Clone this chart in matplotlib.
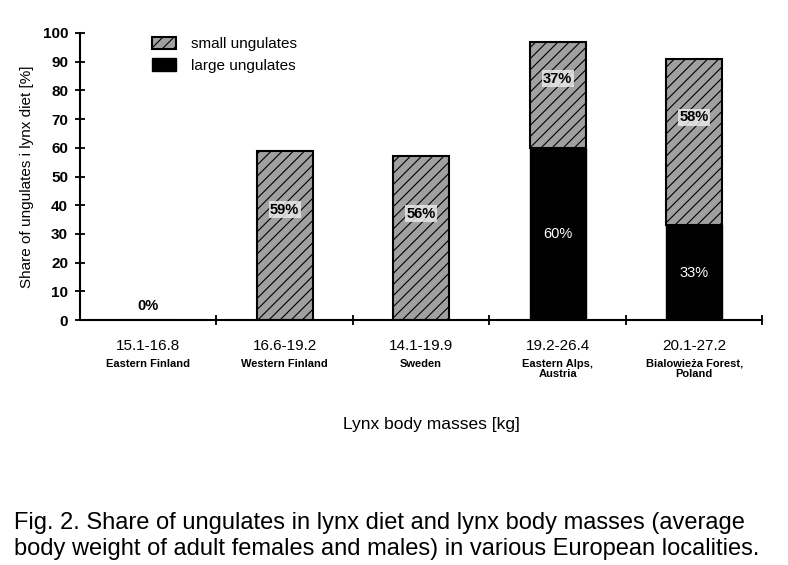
import matplotlib
matplotlib.use("Agg")
import matplotlib.pyplot as plt
import matplotlib.transforms as mtransforms
import numpy as np

plt.rcParams['font.family'] = ['Liberation Sans', 'DejaVu Sans']
plt.rcParams['hatch.linewidth'] = 0.8

# data
masses = ["15.1-16.8", "16.6-19.2", "14.1-19.9", "19.2-26.4", "20.1-27.2"]
places = ["Eastern Finland", "Western Finland", "Sweden", "Eastern Alps,\nAustria",
          "Bialowieża Forest,\nPoland"]
large = [0, 0, 0, 60, 33]
small = [0, 59, 57, 37, 58]
small_labels = ["0%", "59%", "56%", "37%", "58%"]
large_labels = ["", "", "", "60%", "33%"]

fig = plt.figure(figsize=(7.88, 5.65), dpi=100)
ax = fig.add_axes([0.1015, 0.4336, 0.866, 0.508])

x = np.arange(len(masses))
width = 0.41
ax.bar(x, large, width, color='black', edgecolor='black', label='large ungulates', zorder=2)
ax.bar(x, small, width, bottom=large, color='#a0a0a0', edgecolor='black', hatch='///',
       linewidth=1.5, label='small ungulates', zorder=2)

# labels in the bars (small-ungulate labels sit in the upper part of their segment)
for i in range(len(x)):
    if small[i] == 0:
        ax.text(x[i], 5, small_labels[i], ha='center', va='center', fontsize=10.5, fontweight='bold')
    else:
        ax.text(x[i], large[i] + small[i] * 0.65, small_labels[i], ha='center', va='center',
                fontsize=10.5, fontweight='bold', zorder=3,
                bbox=dict(facecolor='#e8e8e8', edgecolor='none', pad=1.0, alpha=0.85))
    if large[i] > 0:
        ax.text(x[i], large[i] / 2, large_labels[i], ha='center', va='center',
                fontsize=10.5, color='white', zorder=3)

ax.set_xlim(-0.5, len(x) - 0.5)
ax.set_ylim(0, 100)
ax.set_yticks(np.arange(0, 101, 10))
ax.set_xticks(np.arange(0.5, len(x) - 0.4, 1.0))
ax.set_xticklabels([])
ax.tick_params(axis='both', direction='inout', length=7, width=1.3)
ax.tick_params(axis='y', labelsize=11, pad=5)
for lab in ax.get_yticklabels():
    lab.set_fontweight('bold')
ax.spines['top'].set_visible(False)
ax.spines['right'].set_visible(False)
ax.spines['left'].set_linewidth(1.5)
ax.spines['bottom'].set_linewidth(1.5)

trans = mtransforms.blended_transform_factory(ax.transData, ax.transAxes)
for i in range(len(x)):
    ax.text(x[i], -0.09, masses[i], transform=trans, ha='center', va='center', fontsize=11)
    ax.text(x[i], -0.135, places[i], transform=trans, ha='center', va='top', fontsize=8,
            fontweight='bold', linespacing=1.0)

ax.set_ylabel("Share of ungulates i lynx diet [%]", fontsize=11, labelpad=6)
fig.text(0.548, 0.248, "Lynx body masses [kg]", ha='center', va='center', fontsize=12.5)

handles, labels = ax.get_legend_handles_labels()
ax.legend(handles[::-1], labels[::-1], loc='upper left', bbox_to_anchor=(0.085, 1.035),
          frameon=False, fontsize=11, handlelength=1.6, handleheight=0.9,
          labelspacing=0.45, handletextpad=1.0)

fig.text(0.018, 0.051, "Fig. 2. Share of ungulates in lynx diet and lynx body masses (average\n"
         "body weight of adult females and males) in various European localities.",
         ha='left', va='center', fontsize=17, linespacing=1.25)

fig.savefig("out.png", dpi=100)
